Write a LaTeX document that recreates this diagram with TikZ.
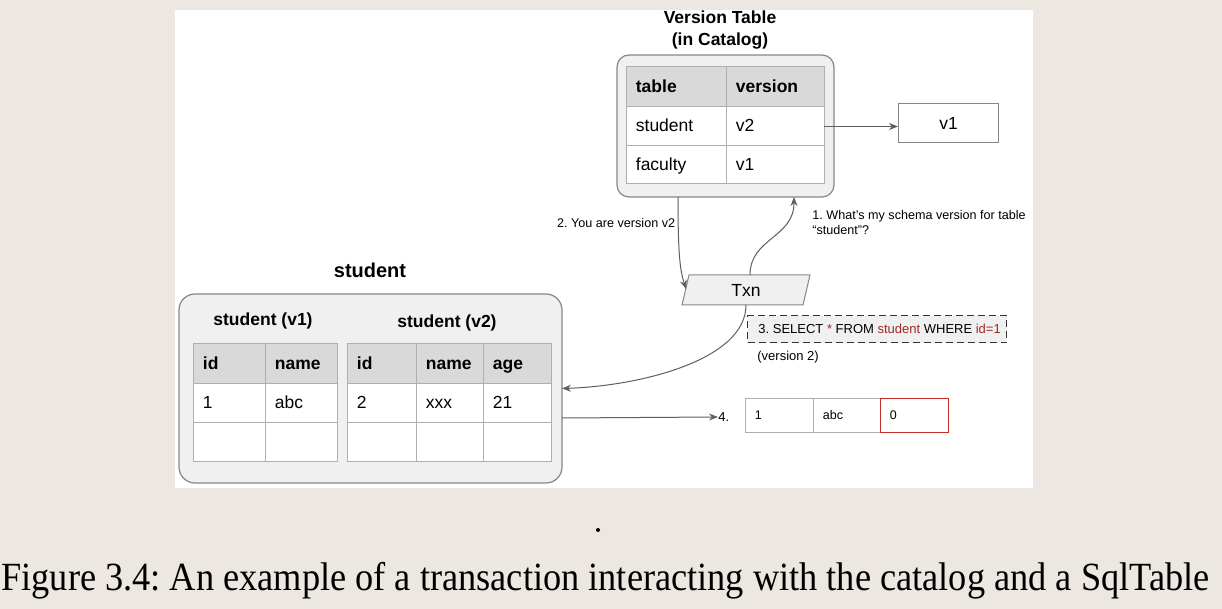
\documentclass[tikz,border=0pt]{standalone}
\usepackage{fontspec}
\usepackage{graphicx}
\setmainfont{Liberation Sans}
\newfontfamily\capfont{Liberation Serif}
\usetikzlibrary{arrows.meta}
\frenchspacing
\definecolor{bg}{RGB}{236,232,225}
\definecolor{linegray}{RGB}{175,175,175}
\definecolor{boxgray}{RGB}{135,135,135}
\definecolor{fillgray}{RGB}{240,240,240}
\definecolor{headgray}{RGB}{217,217,217}
\definecolor{arrowgray}{RGB}{95,95,95}
\definecolor{sqlred}{RGB}{160,40,40}
\definecolor{boxred}{RGB}{200,45,45}
\tikzset{
  cell/.style={draw=linegray, line width=0.5pt, fill=white, inner sep=0pt, outer sep=0pt},
  headcell/.style={cell, fill=headgray},
  celltext/.style={inner sep=0pt, font=\fontsize{8.75}{10}\selectfont, text height=6.5pt, text depth=1.4pt},
  headtext/.style={celltext, font=\fontsize{8.75}{10}\selectfont\bfseries},
  outerbox/.style={draw=boxgray, line width=0.6pt, fill=fillgray, inner sep=0pt, outer sep=0pt},
  arr/.style={draw=arrowgray, line width=0.5pt, -{Stealth[length=4.5pt,width=3.5pt]}},
  lbl/.style={inner sep=0pt, font=\fontsize{6.3}{7.6}\selectfont, align=left},
  sqltext/.style={inner sep=0pt, font=\fontsize{6.5}{8}\selectfont},
  tupletext/.style={inner sep=0pt, font=\fontsize{6.25}{7.5}\selectfont, text height=5pt, text depth=1pt},
  titletext/.style={inner sep=0pt, font=\fontsize{8.75}{11}\selectfont\bfseries, align=center},
}
% #1 style, #2 name, #3 x1, #4 y1, #5 x2, #6 y2, #7 text style, #8 text
\newcommand{\TCell}[8][cell]{%
  \node[#1, anchor=north west, minimum width={(#5-#3)*0.5pt}, minimum height={(#6-#4)*0.5pt}] (#2) at (#3,#4) {};
  \node[#7, anchor=west] (#2-t) at ([xshift=4.75pt]#2.west) {#8};
}
\begin{document}
\begin{tikzpicture}[x=0.5pt, y=-0.5pt]
\useasboundingbox (0,0) rectangle (1222,609);
\fill[bg] (0,0) rectangle (1222,609);
\fill[white] (175,10) rectangle (1033,488);

% ---- Version table (catalog)
\node[titletext] (cattitle) at (720,30.5) {Version Table\\(in Catalog)};
\node[outerbox, rounded corners=6pt, anchor=north west, minimum width=108.5pt, minimum height=71pt] (catbox) at (617,55) {};
\TCell[headcell]{ch1}{626}{67}{726}{107}{headtext}{table}
\TCell[headcell]{ch2}{726}{67}{824}{107}{headtext}{version}
\TCell{cs1}{626}{107}{726}{146}{celltext}{student}
\TCell{cv2}{726}{107}{824}{146}{celltext}{v2}
\TCell{cf1}{626}{146}{726}{184}{celltext}{faculty}
\TCell{cv1}{726}{146}{824}{184}{celltext}{v1}

\node[draw=boxgray, line width=0.5pt, fill=white, anchor=north west, minimum width=50pt, minimum height=19.5pt, inner sep=0pt, font=\fontsize{8.75}{10}\selectfont] (v1box) at (898,103) {v1};
\draw[arr] (cv2.east) -- (cv2.east -| v1box.west);

% ---- Txn
\draw[draw=boxgray, line width=0.5pt, fill=fillgray] (682,305) -- (689,275) -- (810,275) -- (803,305) -- cycle;
\node[inner sep=0pt, font=\fontsize{8.75}{10}\selectfont] (txn) at (746,290) {Txn};
\coordinate (txn-top) at (750,275);
\coordinate (txn-bot) at (746,305);
\coordinate (txn-in) at (686,289);

\draw[arr] ([xshift=30.5pt]catbox.south west) .. controls (678,255) and (680,270) .. (txn-in);
\draw[arr] (txn-top) .. controls (750,238) and (794,238) .. ([xshift=88.5pt]catbox.south west);
\node[lbl, anchor=east] (lab2) at (675.5,223) {2. You are version v2};
\node[lbl, anchor=north west] (lab1) at (812,210) {1. What's my schema version for table\\``student''?};

% ---- Student tables
\node[titletext, font=\fontsize{10}{12}\selectfont\bfseries] (studtitle) at (370,270) {student};
\node[outerbox, rounded corners=8pt, anchor=north west, minimum width=191.5pt, minimum height=94.5pt] (stud) at (179,294) {};
\node[titletext] (t1) at (263,321) {student (v1)};
\node[titletext] (t2) at (447,323) {student (v2)};

\TCell[headcell]{a1}{193}{344}{265}{384}{headtext}{id}
\TCell[headcell]{a2}{265}{344}{337}{384}{headtext}{name}
\TCell{a3}{193}{384}{265}{423}{celltext}{1}
\TCell{a4}{265}{384}{337}{423}{celltext}{abc}
\TCell{a5}{193}{423}{265}{462}{celltext}{}
\TCell{a6}{265}{423}{337}{462}{celltext}{}

\TCell[headcell]{b1}{347}{344}{416}{384}{headtext}{id}
\TCell[headcell]{b2}{416}{344}{483}{384}{headtext}{name}
\TCell[headcell]{b3}{483}{344}{551}{384}{headtext}{age}
\TCell{b4}{347}{384}{416}{423}{celltext}{2}
\TCell{b5}{416}{384}{483}{423}{celltext}{xxx}
\TCell{b6}{483}{384}{551}{423}{celltext}{21}
\TCell{b7}{347}{423}{416}{462}{celltext}{}
\TCell{b8}{416}{423}{483}{462}{celltext}{}
\TCell{b9}{483}{423}{551}{462}{celltext}{}

% ---- Query
\node[draw=black!80, dash pattern=on 3.5pt off 2pt, line width=0.6pt, fill=fillgray, anchor=north west, minimum width=129.5pt, minimum height=13.5pt, inner sep=0pt] (sql) at (747,315) {};
\node[sqltext, anchor=west] (sqlt) at ([xshift=5.5pt]sql.west) {3. SELECT \textcolor{sqlred}{*} FROM \textcolor{sqlred}{student} WHERE \textcolor{sqlred}{id=1}};
\node[sqltext, anchor=west] (ver2) at (757,357) {(version 2)};
\draw[arr] (txn-bot) .. controls (746,360) and (640,386) .. (stud.east);

% ---- Result tuple
\node[sqltext, anchor=west] (lab4) at (718,417) {4.};
\draw[arr] ([yshift=-14.75pt]stud.east) -- (lab4.west);
\TCell{r1}{745}{399}{813}{433}{tupletext}{1}
\TCell{r2}{813}{399}{880}{433}{tupletext}{abc}
\TCell[cell, draw=boxred]{r3}{880}{399}{948}{433}{tupletext}{0}

% ---- dot and caption
\fill[black] (598,530) circle (1pt);
\node[anchor=base west, inner sep=0pt] (cap) at (1,590) {\resizebox{604pt}{\height}{\capfont\fontsize{20}{24}\selectfont Figure 3.4: An example of a transaction interacting with the catalog and a SqlTable}};
\end{tikzpicture}
\end{document}
